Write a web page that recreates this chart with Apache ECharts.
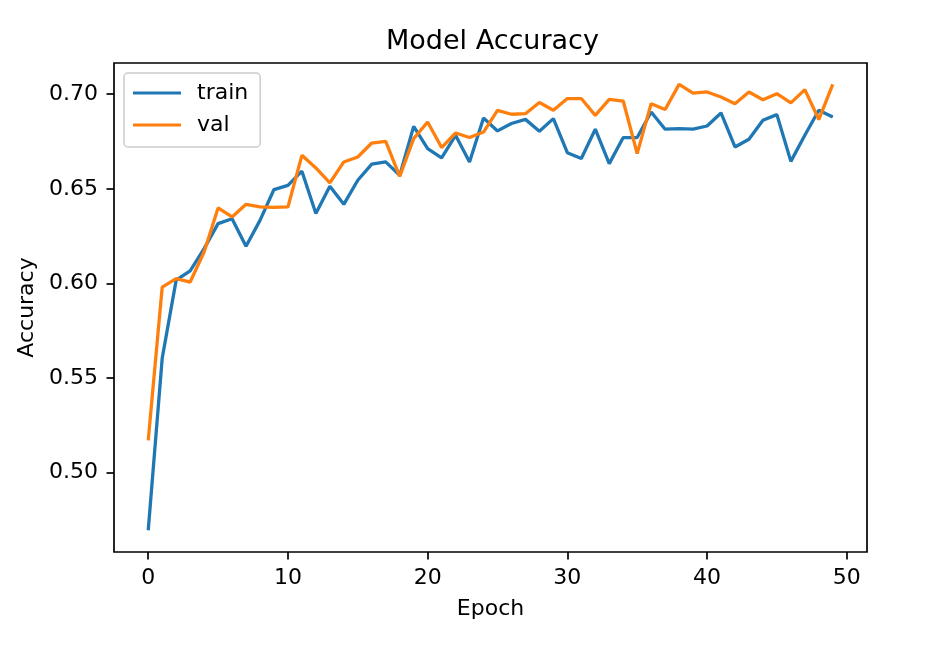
<!DOCTYPE html>
<html>
<head>
<meta charset="utf-8">
<script src="https://cdn.jsdelivr.net/npm/echarts@6/dist/echarts.min.js"></script>
<style>html,body{margin:0;padding:0;background:#fff}#c{width:943px;height:647px}</style>
</head>
<body>
<div id="c"></div>
<script>
var epochs = [0,1,2,3,4,5,6,7,8,9,10,11,12,13,14,15,16,17,18,19,20,21,22,23,24,25,26,27,28,29,30,31,32,33,34,35,36,37,38,39,40,41,42,43,44,45,46,47,48,49];
var trainAcc = [0.4695,0.5604,0.6017,0.6066,0.6184,0.6316,0.6342,0.6196,0.6333,0.6496,0.6518,0.6593,0.6369,0.6513,0.6418,0.6545,0.6630,0.6642,0.6571,0.6830,0.6712,0.6663,0.6783,0.6642,0.6874,0.6806,0.6845,0.6867,0.6804,0.6871,0.6691,0.6660,0.6815,0.6633,0.6771,0.6771,0.6906,0.6815,0.6818,0.6815,0.6832,0.6901,0.6721,0.6762,0.6862,0.6892,0.6645,0.6783,0.6915,0.6880];
var valAcc = [0.5170,0.5980,0.6025,0.6007,0.6166,0.6399,0.6351,0.6418,0.6404,0.6402,0.6404,0.6677,0.6610,0.6531,0.6642,0.6668,0.6742,0.6751,0.6566,0.6765,0.6853,0.6718,0.6795,0.6771,0.6800,0.6915,0.6894,0.6897,0.6956,0.6915,0.6977,0.6977,0.6888,0.6973,0.6964,0.6686,0.6950,0.6919,0.7052,0.7006,0.7012,0.6985,0.6950,0.7012,0.6971,0.7003,0.6954,0.7024,0.6866,0.7052];
var xTicks = [0,10,20,30,40,50];
var yTicks = [0.50,0.55,0.60,0.65,0.70];

var FONT = 'DejaVu Sans';
var FS = 22;
var chart = echarts.init(document.getElementById('c'), null, {renderer:'canvas'});
function pairs(xs, ys){ return xs.map(function(x,i){ return [x, ys[i]]; }); }
chart.setOption({
  animation: false,
  backgroundColor: '#fff',
  textStyle: {fontFamily: FONT},
  title: {
    text: 'Model Accuracy', left: 381, top: 23,
    textStyle: {fontFamily: FONT, fontSize: 27, fontWeight: 'normal', color: '#000'}
  },
  legend: {
    orient: 'vertical', left: 124, top: 73,
    padding: [9, 12, 11, 9],
    itemGap: 10, itemWidth: 48, itemHeight: 3, icon: 'rect',
    backgroundColor: 'rgba(255,255,255,0.8)',
    borderColor: '#cccccc', borderWidth: 1.5, borderRadius: 4,
    textStyle: {fontFamily: FONT, fontSize: FS, color: '#000', padding: [0,0,0,11], lineHeight: 22},
    data: ['train', 'val']
  },
  grid: {
    left: 114, right: 76, top: 63, bottom: 95,
    show: true, borderColor: '#000', borderWidth: 1.7, backgroundColor: 'transparent'
  },
  xAxis: {
    type: 'value', min: -2.45, max: 51.45,
    name: 'Epoch', nameLocation: 'middle', nameGap: 46,
    nameTextStyle: {fontFamily: FONT, fontSize: FS, color: '#000'},
    axisLine: {show: false, onZero: false},
    splitLine: {show: false},
    axisTick: {show: true, length: 7.5, lineStyle: {color: '#000', width: 1.7}, customValues: xTicks},
    axisLabel: {fontFamily: FONT, fontSize: FS, color: '#000', margin: 15, customValues: xTicks,
      formatter: function(v){ return String(Math.round(v)); }}
  },
  yAxis: {
    type: 'value', min: 0.458, max: 0.7165,
    name: 'Accuracy', nameLocation: 'middle', nameGap: 76, nameRotate: 90,
    nameTextStyle: {fontFamily: FONT, fontSize: FS, color: '#000'},
    axisLine: {show: false, onZero: false},
    splitLine: {show: false},
    axisTick: {show: true, length: 7.5, lineStyle: {color: '#000', width: 1.7}, customValues: yTicks},
    axisLabel: {fontFamily: FONT, fontSize: FS, color: '#000', margin: 16, customValues: yTicks,
      formatter: function(v){ return v.toFixed(2); }}
  },
  series: [
    {name: 'train', type: 'line', data: pairs(epochs, trainAcc), symbol: 'none',
     lineStyle: {color: '#1f77b4', width: 3.3}, itemStyle: {color: '#1f77b4'}},
    {name: 'val', type: 'line', data: pairs(epochs, valAcc), symbol: 'none',
     lineStyle: {color: '#ff7f0e', width: 3.3}, itemStyle: {color: '#ff7f0e'}}
  ]
});
</script>
</body>
</html>
